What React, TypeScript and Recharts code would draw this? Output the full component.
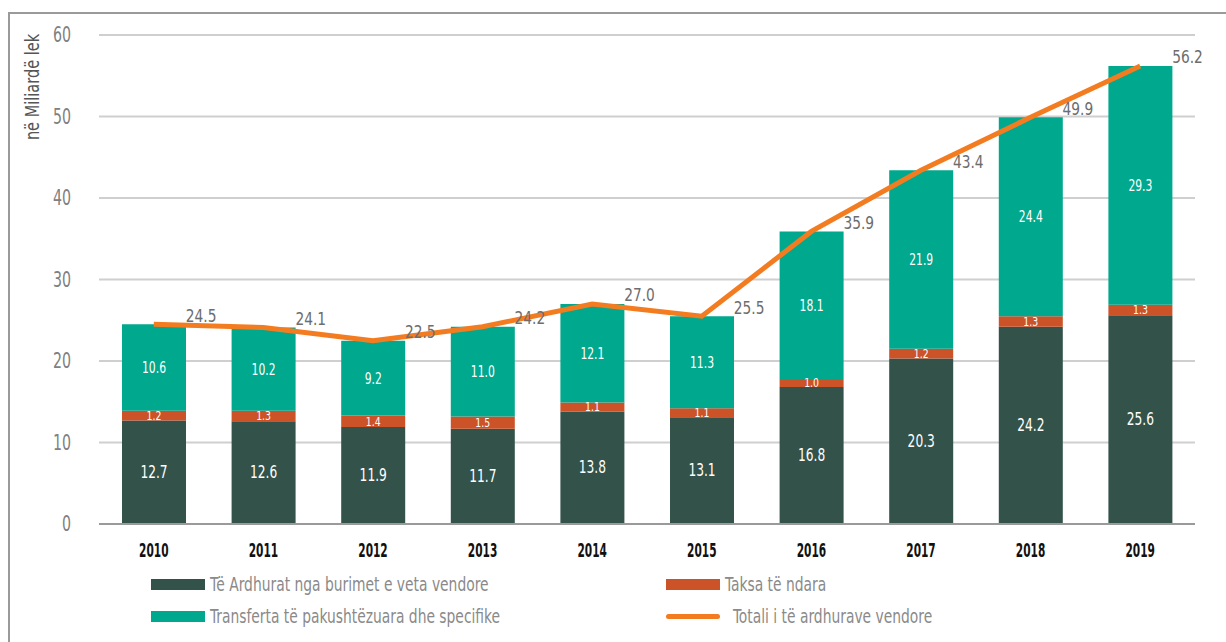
import React from "react";
import {
  ComposedChart,
  Bar,
  Line,
  XAxis,
  YAxis,
  CartesianGrid,
  Legend,
  LabelList,
} from "recharts";

const years = ["2010", "2011", "2012", "2013", "2014", "2015", "2016", "2017", "2018", "2019"];
const ownRevenue = [12.7, 12.6, 11.9, 11.7, 13.8, 13.1, 16.8, 20.3, 24.2, 25.6];
const sharedTaxes = [1.2, 1.3, 1.4, 1.5, 1.1, 1.1, 1.0, 1.2, 1.3, 1.3];
const transfers = [10.6, 10.2, 9.2, 11.0, 12.1, 11.3, 18.1, 21.9, 24.4, 29.3];
const totals = [24.5, 24.1, 22.5, 24.2, 27.0, 25.5, 35.9, 43.4, 49.9, 56.2];
const yTicks = [0, 10, 20, 30, 40, 50, 60];

const FONT = "'DejaVu Sans Condensed', 'DejaVu Sans', sans-serif";

const COLORS = {
  own: "#33524a",
  tax: "#cc5228",
  transfer: "#00a88e",
  total: "#f47c20",
};

const data = years.map((year, i) => ({
  year,
  own: ownRevenue[i],
  tax: sharedTaxes[i],
  transfer: transfers[i],
  total: totals[i],
}));

const legendItems = [
  { label: "Të Ardhurat nga burimet e veta vendore", color: COLORS.own, kind: "bar", x: 151, y: 0 },
  { label: "Taksa të ndara", color: COLORS.tax, kind: "bar", x: 666, y: 0 },
  { label: "Transferta të pakushtëzuara dhe specifike", color: COLORS.transfer, kind: "bar", x: 151, y: 32 },
  { label: "Totali i të ardhurave vendore", color: COLORS.total, kind: "line", x: 666, y: 32 },
];

// squeezes text horizontally to get the condensed look of the original
const Narrow = ({ x, y, sx, size, fill, anchor = "middle", weight = "normal", baseline = "auto", children }: any) => (
  <text
    transform={`translate(${x},${y}) scale(${sx},1)`}
    textAnchor={anchor}
    dominantBaseline={baseline}
    fill={fill}
    fontFamily={FONT}
    fontSize={size}
    fontWeight={weight}
  >
    {children}
  </text>
);

const renderLegend = () => (
  <div style={{ position: "relative", width: 1226, height: 70 }}>
    {legendItems.map((item) => (
      <div
        key={item.label}
        style={{
          position: "absolute",
          left: item.x,
          top: item.y,
          height: 24,
          display: "flex",
          alignItems: "center",
          fontFamily: FONT,
          fontSize: 20,
          color: "#8a8a8a",
          whiteSpace: "nowrap",
        }}
      >
        <span
          style={{
            display: "inline-block",
            width: 54,
            height: item.kind === "bar" ? 11 : 5,
            borderRadius: item.kind === "bar" ? 0 : 3,
            background: item.color,
            marginRight: item.kind === "bar" ? 5 : 13,
          }}
        />
        <span style={{ display: "inline-block", transform: "scaleX(0.77)", transformOrigin: "left center" }}>
          {item.label}
        </span>
      </div>
    ))}
  </div>
);

const YTick = (props: any) => {
  const { x, y, payload } = props;
  return (
    <Narrow x={x} y={y} sx={0.75} size={21} fill="#808080" anchor="end" baseline="central">
      {payload.value}
    </Narrow>
  );
};

const XTick = (props: any) => {
  const { x, y, payload } = props;
  return (
    <Narrow x={x} y={y + 11} sx={0.62} size={19} fill="#111" weight="bold" baseline="hanging">
      {payload.value}
    </Narrow>
  );
};

const totalLabel = (props: any) => {
  const { x, y, value } = props;
  return (
    <Narrow x={x + 32} y={y - 9} sx={0.85} size={18} fill="#6d6d6d" anchor="start" baseline="central">
      {Number(value).toFixed(1)}
    </Narrow>
  );
};

const barLabel = (size: number) => (props: any) => {
  const { x, y, width, height, value } = props;
  return (
    <Narrow x={x + width / 2} y={y + height / 2} sx={0.8} size={size} fill="#ffffff" baseline="central">
      {Number(value).toFixed(1)}
    </Narrow>
  );
};

export default function App() {
  return (
    <div style={{ position: "absolute", left: 0, top: 0, width: 1226, height: 642, background: "#fff", overflow: "hidden" }}>
      <div
        style={{
          position: "absolute",
          left: 8,
          top: 12,
          width: 1240,
          height: 660,
          borderLeft: "2px solid #9a9a9a",
          borderTop: "2px solid #9a9a9a",
        }}
      />
      <div
        style={{
          position: "absolute",
          left: 32,
          top: 87,
          transform: "translate(-50%, -50%) rotate(-90deg) scaleX(0.85)",
          fontFamily: FONT,
          fontSize: 19,
          color: "#555",
          whiteSpace: "nowrap",
        }}
      >
        në Miliardë lek
      </div>
      <ComposedChart
        width={1226}
        height={642}
        data={data}
        margin={{ top: 35, right: 31, bottom: 18, left: 0 }}
        style={{ position: "absolute", left: 0, top: 0 }}
      >
        <CartesianGrid vertical={false} stroke="#cfcfcf" strokeWidth={2} />
        <XAxis
          dataKey="year"
          height={30}
          tickLine={false}
          axisLine={{ stroke: "#9a9a9a", strokeWidth: 2 }}
          tick={<XTick />}
        />
        <YAxis
          width={99}
          domain={[0, 60]}
          ticks={yTicks}
          axisLine={false}
          tickLine={false}
          tickSize={0}
          tickMargin={28}
          tick={<YTick />}
        />
        <Legend verticalAlign="bottom" content={renderLegend} wrapperStyle={{ left: 0, top: 572, width: 1226, height: 70 }} />
        <Bar dataKey="own" stackId="a" fill={COLORS.own} barSize={64} isAnimationActive={false} name="Të Ardhurat nga burimet e veta vendore">
          <LabelList dataKey="own" content={barLabel(17)} />
        </Bar>
        <Bar dataKey="tax" stackId="a" fill={COLORS.tax} barSize={64} isAnimationActive={false} name="Taksa të ndara">
          <LabelList dataKey="tax" content={barLabel(13)} />
        </Bar>
        <Bar dataKey="transfer" stackId="a" fill={COLORS.transfer} barSize={64} isAnimationActive={false} name="Transferta të pakushtëzuara dhe specifike">
          <LabelList dataKey="transfer" content={barLabel(15)} />
        </Bar>
        <Line
          dataKey="total"
          type="linear"
          stroke={COLORS.total}
          strokeWidth={5}
          dot={false}
          activeDot={false}
          isAnimationActive={false}
          name="Totali i të ardhurave vendore"
        >
          <LabelList dataKey="total" content={totalLabel} />
        </Line>
      </ComposedChart>
    </div>
  );
}
